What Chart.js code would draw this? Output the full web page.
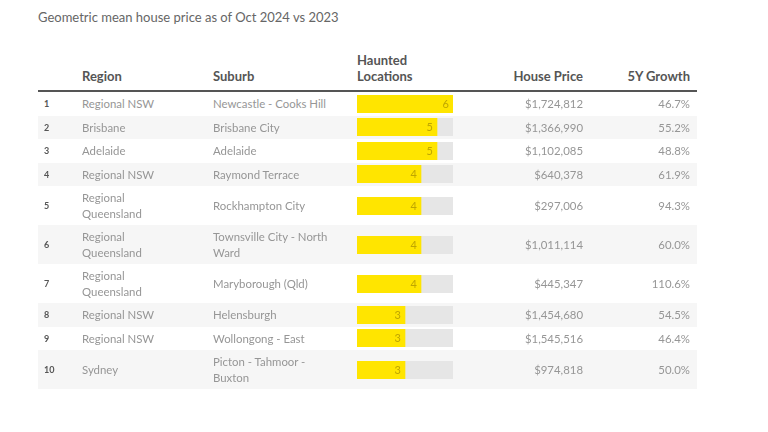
<!DOCTYPE html>
<html>
<head>
<meta charset="utf-8">
<script src="https://cdn.jsdelivr.net/npm/chart.js@4/dist/chart.umd.min.js"></script>
<style>
  html, body { margin: 0; padding: 0; background: #fff; }
  body { width: 768px; height: 432px; overflow: hidden; position: relative; font-family: Lato, "Open Sans", sans-serif; }
  #title { position: absolute; left: 38px; top: 8px; font-size: 13px; color: #666; line-height: 18px; }
  table { position: absolute; left: 38px; top: 52px; border-collapse: separate; border-spacing: 0; table-layout: fixed; width: 659px; }
  th { font-weight: 700; font-size: 13px; color: #555; line-height: 16px; text-align: left; vertical-align: bottom; padding: 0 0 6px 0; border-bottom: 2px solid #555; }
  td { font-size: 11.4px; color: #969696; line-height: 15.5px; padding: 4px 0; vertical-align: middle; }
  tbody tr:nth-child(even) td { background: #f6f6f6; }
  .rank { font-size: 9px; font-weight: 700; color: #555; padding-left: 6px; }
  .region { padding-right: 38px; }
  .suburb { padding-right: 24px; }
  .num { text-align: right; }
  .growth { text-align: right; padding-right: 7px; }
  td.bar { padding: 0; }
  td.bar canvas { display: block; }
</style>
</head>
<body>
<div id="title"></div>
<table id="tbl">
  <colgroup>
    <col style="width:44px"><col style="width:131px"><col style="width:144px"><col style="width:96px"><col style="width:130px"><col style="width:114px">
  </colgroup>
  <thead><tr id="hdr"></tr></thead>
  <tbody id="body"></tbody>
</table>
<script>
const titleText = "Geometric mean house price as of Oct 2024 vs 2023";
const columnHeaders = ["", "Region", "Suburb", "Haunted Locations", "House Price", "5Y Growth"];
const ranks = [1, 2, 3, 4, 5, 6, 7, 8, 9, 10];
const regions = ["Regional NSW", "Brisbane", "Adelaide", "Regional NSW", "Regional Queensland", "Regional Queensland", "Regional Queensland", "Regional NSW", "Regional NSW", "Sydney"];
const suburbs = ["Newcastle - Cooks Hill", "Brisbane City", "Adelaide", "Raymond Terrace", "Rockhampton City", "Townsville City - North Ward", "Maryborough (Qld)", "Helensburgh", "Wollongong - East", "Picton - Tahmoor - Buxton"];
const haunted = [6, 5, 5, 4, 4, 4, 4, 3, 3, 3];
const prices = [1724812, 1366990, 1102085, 640378, 297006, 1011114, 445347, 1454680, 1545516, 974818];
const growth = [46.7, 55.2, 48.8, 61.9, 94.3, 60.0, 110.6, 54.5, 46.4, 50.0];

document.getElementById('title').textContent = titleText;
const hdr = document.getElementById('hdr');
columnHeaders.forEach((h, i) => {
  const th = document.createElement('th');
  if (i === 3) { th.innerHTML = "Haunted<br>Locations"; }
  else th.textContent = h;
  if (i === 4) th.className = 'num';
  if (i === 5) th.className = 'growth';
  hdr.appendChild(th);
});

Chart.defaults.font.family = 'Lato, "Open Sans", sans-serif';
const maxHaunted = Math.max(...haunted);

const labelPlugin = {
  id: 'valueLabel',
  afterDatasetsDraw(chart) {
    const ctx = chart.ctx;
    const meta = chart.getDatasetMeta(0);
    meta.data.forEach((bar, i) => {
      const v = chart.data.datasets[0].data[i];
      ctx.save();
      ctx.font = '11px Lato, sans-serif';
      ctx.fillStyle = '#bfa600';
      ctx.textAlign = 'right';
      ctx.textBaseline = 'middle';
      ctx.fillText(String(v), bar.x - 4, bar.y + 0.5);
      ctx.restore();
    });
  }
};

const tbody = document.getElementById('body');
ranks.forEach((r, i) => {
  const tr = document.createElement('tr');
  const cells = [
    ['rank', String(r)],
    ['region', regions[i]],
    ['suburb', suburbs[i]],
    ['bar', null],
    ['num', '$' + prices[i].toLocaleString('en-US')],
    ['growth', growth[i].toFixed(1) + '%']
  ];
  let canvas;
  cells.forEach(([cls, txt]) => {
    const td = document.createElement('td');
    td.className = cls;
    if (txt !== null) td.textContent = txt;
    else {
      canvas = document.createElement('canvas');
      canvas.width = 96; canvas.height = 18;
      td.appendChild(canvas);
    }
    tr.appendChild(td);
  });
  tbody.appendChild(tr);
  new Chart(canvas, {
    type: 'bar',
    data: {
      labels: [suburbs[i]],
      datasets: [
        { data: [haunted[i]], backgroundColor: '#ffe500', borderWidth: 0, grouped: false, order: 0, barPercentage: 1, categoryPercentage: 1 },
        { data: [maxHaunted], backgroundColor: '#e6e6e6', borderWidth: 0, grouped: false, order: 1, barPercentage: 1, categoryPercentage: 1 }
      ]
    },
    options: {
      indexAxis: 'y',
      responsive: false,
      animation: false,
      events: [],
      layout: { padding: 0 },
      plugins: { legend: { display: false }, tooltip: { enabled: false } },
      scales: {
        x: { display: false, min: 0, max: maxHaunted },
        y: { display: false }
      }
    },
    plugins: [labelPlugin]
  });
});
</script>
</body>
</html>
